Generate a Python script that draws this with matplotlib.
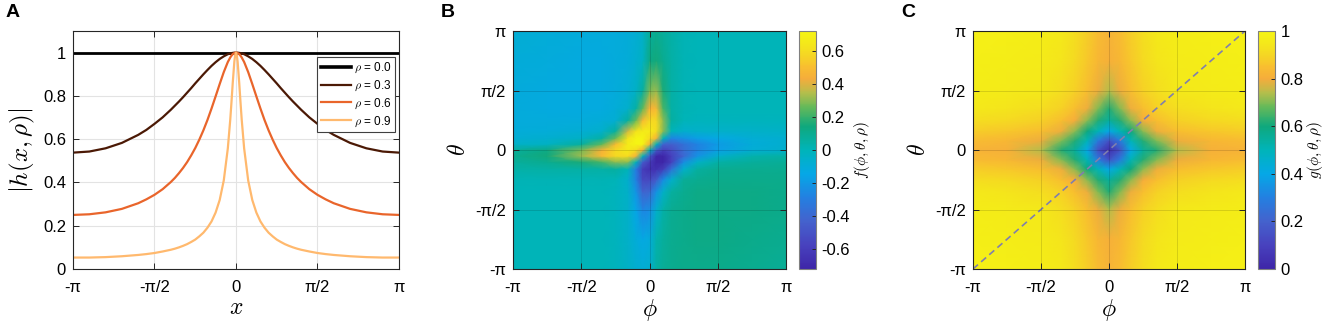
import numpy as np
import matplotlib
matplotlib.use('Agg')
import matplotlib.pyplot as plt
from matplotlib.colors import LinearSegmentedColormap

plt.rcParams['font.family'] = ['Liberation Sans', 'DejaVu Sans']
plt.rcParams['mathtext.fontset'] = 'cm'

# ---- panel A: |h(x, rho)|, x given in units of pi ----
x_pi = [-1, -0.9, -0.8, -0.7, -0.6, -0.55, -0.5, -0.45, -0.4, -0.375, -0.35, -0.325, -0.3,
        -0.275, -0.25, -0.225, -0.2, -0.175, -0.15, -0.125, -0.1, -0.075, -0.05, -0.035,
        -0.0275, -0.02, -0.01, -0.005, 0, 0.005, 0.01, 0.02, 0.0275, 0.035, 0.05, 0.075,
        0.1, 0.125, 0.15, 0.175, 0.2, 0.225, 0.25, 0.275, 0.3, 0.325, 0.35, 0.375, 0.4,
        0.45, 0.5, 0.55, 0.6, 0.7, 0.8, 0.9, 1]
x_rho00 = [-1, 1]
h_rho00 = [1.0, 1.0]
h_rho03 = [0.538, 0.543, 0.558, 0.583, 0.620, 0.643, 0.671, 0.701, 0.736, 0.755, 0.774, 0.794,
           0.815, 0.836, 0.858, 0.879, 0.900, 0.920, 0.939, 0.956, 0.971, 0.983, 0.993, 0.996,
           0.998, 0.999, 1.000, 1.000, 1.000, 1.000, 1.000, 0.999, 0.998, 0.996, 0.993, 0.983,
           0.971, 0.956, 0.939, 0.920, 0.900, 0.879, 0.858, 0.836, 0.815, 0.794, 0.774, 0.755,
           0.736, 0.701, 0.671, 0.643, 0.620, 0.583, 0.558, 0.543, 0.538]
h_rho06 = [0.250, 0.253, 0.262, 0.278, 0.304, 0.322, 0.343, 0.369, 0.402, 0.421, 0.443, 0.467,
           0.494, 0.525, 0.559, 0.598, 0.641, 0.689, 0.742, 0.798, 0.855, 0.910, 0.957, 0.978,
           0.986, 0.993, 0.998, 1.000, 1.000, 1.000, 0.998, 0.993, 0.986, 0.978, 0.957, 0.910,
           0.855, 0.798, 0.742, 0.689, 0.641, 0.598, 0.559, 0.525, 0.494, 0.467, 0.443, 0.421,
           0.402, 0.369, 0.343, 0.322, 0.304, 0.278, 0.262, 0.253, 0.250]
h_rho09 = [0.053, 0.053, 0.055, 0.059, 0.065, 0.069, 0.074, 0.081, 0.089, 0.094, 0.100, 0.107,
           0.115, 0.125, 0.136, 0.151, 0.168, 0.191, 0.220, 0.261, 0.319, 0.409, 0.558, 0.692,
           0.773, 0.859, 0.959, 0.989, 1.000, 0.989, 0.959, 0.859, 0.773, 0.692, 0.558, 0.409,
           0.319, 0.261, 0.220, 0.191, 0.168, 0.151, 0.136, 0.125, 0.115, 0.107, 0.100, 0.094,
           0.089, 0.081, 0.074, 0.069, 0.065, 0.059, 0.055, 0.053, 0.053]
rho_labels = [r'$\rho$ = 0.0', r'$\rho$ = 0.3', r'$\rho$ = 0.6', r'$\rho$ = 0.9']

# ---- panel B: f(phi, theta, rho), grid in units of pi, rows = theta (bottom -> top) ----
f_grid_pi = [-1, -0.75, -0.5, -0.35, -0.25, -0.16, -0.1, -0.05, 0,
             0.05, 0.1, 0.16, 0.25, 0.35, 0.5, 0.75, 1]
f_vals = [
    [0.00, 0.00, 0.00, 0.00, -0.01, -0.04, -0.07, -0.09, -0.07, 0.05, 0.08, 0.10, 0.11, 0.11, 0.11, 0.10, 0.08],
    [0.00, 0.00, 0.00, 0.00, -0.01, -0.05, -0.10, -0.13, -0.11, 0.03, 0.07, 0.10, 0.11, 0.12, 0.12, 0.11, 0.10],
    [0.00, 0.00, 0.00, 0.00, -0.01, -0.05, -0.15, -0.27, -0.24, -0.06, 0.04, 0.09, 0.11, 0.12, 0.12, 0.12, 0.11],
    [0.00, 0.00, 0.00, 0.00, -0.01, -0.05, -0.21, -0.42, -0.40, -0.22, -0.05, 0.06, 0.10, 0.12, 0.12, 0.12, 0.11],
    [0.01, 0.01, 0.01, 0.01, 0.00, -0.06, -0.28, -0.54, -0.54, -0.45, -0.24, -0.06, 0.08, 0.10, 0.11, 0.11, 0.11],
    [0.04, 0.05, 0.05, 0.05, 0.06, 0.00, -0.30, -0.60, -0.66, -0.66, -0.60, -0.36, -0.06, 0.06, 0.09, 0.10, 0.10],
    [0.07, 0.10, 0.16, 0.22, 0.30, 0.30, 0.00, -0.45, -0.60, -0.74, -0.72, -0.58, -0.24, -0.05, 0.04, 0.07, 0.08],
    [0.09, 0.15, 0.32, 0.48, 0.58, 0.60, 0.45, 0.00, -0.45, -0.72, -0.72, -0.58, -0.40, -0.22, -0.06, 0.03, 0.05],
    [0.07, 0.12, 0.28, 0.45, 0.58, 0.66, 0.60, 0.45, 0.00, -0.45, -0.58, -0.52, -0.38, -0.28, -0.18, -0.09, -0.06],
    [-0.05, -0.03, 0.06, 0.25, 0.48, 0.66, 0.74, 0.72, 0.45, 0.00, -0.42, -0.44, -0.36, -0.28, -0.19, -0.10, -0.07],
    [-0.08, -0.07, -0.04, 0.05, 0.26, 0.62, 0.72, 0.74, 0.60, 0.45, 0.00, -0.27, -0.22, -0.17, -0.13, -0.09, -0.07],
    [-0.10, -0.10, -0.09, -0.06, 0.06, 0.38, 0.62, 0.66, 0.66, 0.60, 0.30, 0.00, -0.06, -0.05, -0.05, -0.05, -0.04],
    [-0.11, -0.11, -0.11, -0.10, -0.08, 0.06, 0.26, 0.48, 0.58, 0.58, 0.30, 0.06, 0.00, -0.01, -0.01, -0.01, -0.01],
    [-0.11, -0.12, -0.12, -0.12, -0.10, -0.06, 0.05, 0.25, 0.45, 0.48, 0.22, 0.05, 0.01, 0.00, 0.00, 0.00, 0.00],
    [-0.11, -0.12, -0.12, -0.12, -0.11, -0.09, -0.04, 0.06, 0.28, 0.32, 0.16, 0.05, 0.01, 0.00, 0.00, 0.00, 0.00],
    [-0.10, -0.11, -0.12, -0.12, -0.11, -0.10, -0.07, -0.03, 0.12, 0.15, 0.10, 0.05, 0.01, 0.00, 0.00, 0.00, 0.00],
    [-0.08, -0.10, -0.11, -0.11, -0.11, -0.10, -0.08, -0.05, 0.07, 0.09, 0.07, 0.04, 0.01, 0.00, 0.00, 0.00, 0.00],
]
f_ticks = [-0.6, -0.4, -0.2, 0, 0.2, 0.4, 0.6]
f_ticklabels = ['-0.6', '-0.4', '-0.2', '0', '0.2', '0.4', '0.6']

# ---- panel C: g(phi, theta, rho) ----
g_grid_pi = [-1, -0.75, -0.5, -0.35, -0.25, -0.16, -0.08, 0, 0.08, 0.16, 0.25, 0.35, 0.5, 0.75, 1]
g_vals = [
    [0.98, 0.98, 0.97, 0.95, 0.92, 0.88, 0.84, 0.82, 0.84, 0.88, 0.92, 0.95, 0.97, 0.98, 0.98],
    [0.98, 0.97, 0.96, 0.94, 0.91, 0.87, 0.83, 0.81, 0.83, 0.87, 0.91, 0.94, 0.96, 0.97, 0.98],
    [0.97, 0.96, 0.95, 0.92, 0.89, 0.85, 0.79, 0.74, 0.79, 0.85, 0.89, 0.92, 0.95, 0.96, 0.97],
    [0.95, 0.94, 0.92, 0.89, 0.85, 0.79, 0.70, 0.62, 0.70, 0.79, 0.85, 0.89, 0.92, 0.94, 0.95],
    [0.92, 0.91, 0.89, 0.85, 0.80, 0.71, 0.62, 0.55, 0.62, 0.71, 0.80, 0.85, 0.89, 0.91, 0.92],
    [0.88, 0.87, 0.85, 0.79, 0.71, 0.60, 0.50, 0.40, 0.50, 0.60, 0.71, 0.79, 0.85, 0.87, 0.88],
    [0.84, 0.83, 0.79, 0.70, 0.62, 0.50, 0.28, 0.15, 0.28, 0.50, 0.62, 0.70, 0.79, 0.83, 0.84],
    [0.82, 0.81, 0.74, 0.62, 0.55, 0.40, 0.15, 0.03, 0.15, 0.40, 0.55, 0.62, 0.74, 0.81, 0.82],
    [0.84, 0.83, 0.79, 0.70, 0.62, 0.50, 0.28, 0.15, 0.28, 0.50, 0.62, 0.70, 0.79, 0.83, 0.84],
    [0.88, 0.87, 0.85, 0.79, 0.71, 0.60, 0.50, 0.40, 0.50, 0.60, 0.71, 0.79, 0.85, 0.87, 0.88],
    [0.92, 0.91, 0.89, 0.85, 0.80, 0.71, 0.62, 0.55, 0.62, 0.71, 0.80, 0.85, 0.89, 0.91, 0.92],
    [0.95, 0.94, 0.92, 0.89, 0.85, 0.79, 0.70, 0.62, 0.70, 0.79, 0.85, 0.89, 0.92, 0.94, 0.95],
    [0.97, 0.96, 0.95, 0.92, 0.89, 0.85, 0.79, 0.74, 0.79, 0.85, 0.89, 0.92, 0.95, 0.96, 0.97],
    [0.98, 0.97, 0.96, 0.94, 0.91, 0.87, 0.83, 0.81, 0.83, 0.87, 0.91, 0.94, 0.96, 0.97, 0.98],
    [0.98, 0.98, 0.97, 0.95, 0.92, 0.88, 0.84, 0.82, 0.84, 0.88, 0.92, 0.95, 0.97, 0.98, 0.98],
]
g_ticks = [0, 0.2, 0.4, 0.6, 0.8, 1]
g_ticklabels = ['0', '0.2', '0.4', '0.6', '0.8', '1']

pi_ticks = [-np.pi, -np.pi / 2, 0, np.pi / 2, np.pi]
pi_labels = ['-π', '-π/2', '0', 'π/2', 'π']

# parula-like map sampled from the colour bars
cmap_stops = [(0.00, (62, 38, 168)), (0.10, (72, 66, 190)), (0.20, (68, 98, 205)),
              (0.30, (35, 128, 225)), (0.40, (5, 168, 230)), (0.50, (0, 180, 185)),
              (0.60, (15, 168, 125)), (0.68, (100, 185, 90)), (0.74, (180, 190, 75)),
              (0.80, (245, 172, 60)), (0.85, (248, 190, 48)), (0.90, (245, 214, 36)),
              (0.95, (244, 232, 26)), (1.00, (245, 244, 20))]
parula = LinearSegmentedColormap.from_list(
    'parula_like', [(s, tuple(c / 255 for c in rgb)) for s, rgb in cmap_stops])

line_colors = ['#000000', '#4b1905', '#e9652b', '#ffb96e']
spine_col = '#262626'


def style_axes(ax):
    ax.tick_params(direction='in', top=True, right=True, length=4, width=0.7,
                   colors=spine_col, labelsize=12, labelcolor='black')
    ax.tick_params(axis='x', pad=8)
    ax.tick_params(axis='y', pad=5)
    for s in ax.spines.values():
        s.set_color(spine_col)
        s.set_linewidth(0.8)


fig = plt.figure(figsize=(13.25, 3.26), dpi=100)

# ----- A -----
axA = fig.add_axes([0.0551, 0.1748, 0.2460, 0.7300])
axA.set_axisbelow(True)
axA.grid(True, color='#e3e3e3', linewidth=0.8)
xa = np.array(x_pi) * np.pi
axA.plot(np.array(x_rho00) * np.pi, h_rho00, color=line_colors[0], lw=2.0, label=rho_labels[0])
axA.plot(xa, h_rho03, color=line_colors[1], lw=1.6, label=rho_labels[1])
axA.plot(xa, h_rho06, color=line_colors[2], lw=1.6, label=rho_labels[2])
axA.plot(xa, h_rho09, color=line_colors[3], lw=1.6, label=rho_labels[3])
axA.set_xlim(-np.pi, np.pi)
axA.set_ylim(0, 1.1)
axA.set_xticks(pi_ticks)
axA.set_xticklabels(pi_labels)
axA.set_yticks([0, 0.2, 0.4, 0.6, 0.8, 1])
axA.set_yticklabels(['0', '0.2', '0.4', '0.6', '0.8', '1'])
style_axes(axA)
axA.set_xlabel(r'$x$', fontsize=17, labelpad=1)
axA.set_ylabel(r'$|h(x,\rho)|$', fontsize=18, labelpad=4)
leg = axA.legend(loc='upper right', bbox_to_anchor=(0.988, 0.89), fontsize=8.5,
                 handlelength=2.5, handletextpad=0.3, borderpad=0.3, labelspacing=0.3,
                 borderaxespad=0, fancybox=False, framealpha=1, edgecolor='#404040')
leg.get_frame().set_linewidth(0.8)
leg.get_lines()[0].set_linewidth(2.6)

# ----- B -----
axB = fig.add_axes([0.3872, 0.1748, 0.2060, 0.7300])
fx = np.array(f_grid_pi) * np.pi
meshB = axB.pcolormesh(fx, fx, np.array(f_vals), shading='gouraud', cmap=parula,
                       vmin=-0.72, vmax=0.72)
axB.set_axisbelow(False)
axB.grid(True, color='black', alpha=0.15, linewidth=0.6)
axB.set_xlim(-np.pi, np.pi)
axB.set_ylim(-np.pi, np.pi)
axB.set_xticks(pi_ticks)
axB.set_xticklabels(pi_labels)
axB.set_yticks(pi_ticks)
axB.set_yticklabels(pi_labels)
style_axes(axB)
axB.set_xlabel(r'$\phi$', fontsize=17, labelpad=1)
axB.set_ylabel(r'$\theta$', fontsize=17, labelpad=4)

caxB = fig.add_axes([0.6030, 0.1748, 0.0128, 0.7300])
cbB = fig.colorbar(meshB, cax=caxB, ticks=f_ticks)
cbB.ax.set_yticklabels(f_ticklabels)
cbB.ax.tick_params(direction='in', length=3, width=0.7, labelsize=12, colors=spine_col,
                   labelcolor='black', pad=4)
cbB.outline.set_edgecolor('#808080')
cbB.outline.set_linewidth(0.8)
cbB.set_label(r'$f(\phi,\theta,\rho)$', fontsize=11, labelpad=1)

# ----- C -----
axC = fig.add_axes([0.7343, 0.1748, 0.2053, 0.7300])
gx = np.array(g_grid_pi) * np.pi
meshC = axC.pcolormesh(gx, gx, np.array(g_vals), shading='gouraud', cmap=parula,
                       vmin=0, vmax=1)
axC.plot([-np.pi, np.pi], [-np.pi, np.pi], linestyle=(0, (4, 2.5)), color='#7f7fae', lw=1.2)
axC.set_axisbelow(False)
axC.grid(True, color='black', alpha=0.15, linewidth=0.6)
axC.set_xlim(-np.pi, np.pi)
axC.set_ylim(-np.pi, np.pi)
axC.set_xticks(pi_ticks)
axC.set_xticklabels(pi_labels)
axC.set_yticks(pi_ticks)
axC.set_yticklabels(pi_labels)
style_axes(axC)
axC.set_xlabel(r'$\phi$', fontsize=17, labelpad=1)
axC.set_ylabel(r'$\theta$', fontsize=17, labelpad=4)

caxC = fig.add_axes([0.9494, 0.1748, 0.0128, 0.7300])
cbC = fig.colorbar(meshC, cax=caxC, ticks=g_ticks)
cbC.ax.set_yticklabels(g_ticklabels)
cbC.ax.tick_params(direction='in', length=3, width=0.7, labelsize=12, colors=spine_col,
                   labelcolor='black', pad=4)
cbC.outline.set_edgecolor('#808080')
cbC.outline.set_linewidth(0.8)
cbC.set_label(r'$g(\phi,\theta,\rho)$', fontsize=11, labelpad=1)

# panel letters
for xpos, letter in [(0.004, 'A'), (0.333, 'B'), (0.680, 'C')]:
    fig.text(xpos, 0.962, letter, fontsize=14, fontweight='bold', va='center', ha='left')

fig.savefig('out.png', dpi=100)
